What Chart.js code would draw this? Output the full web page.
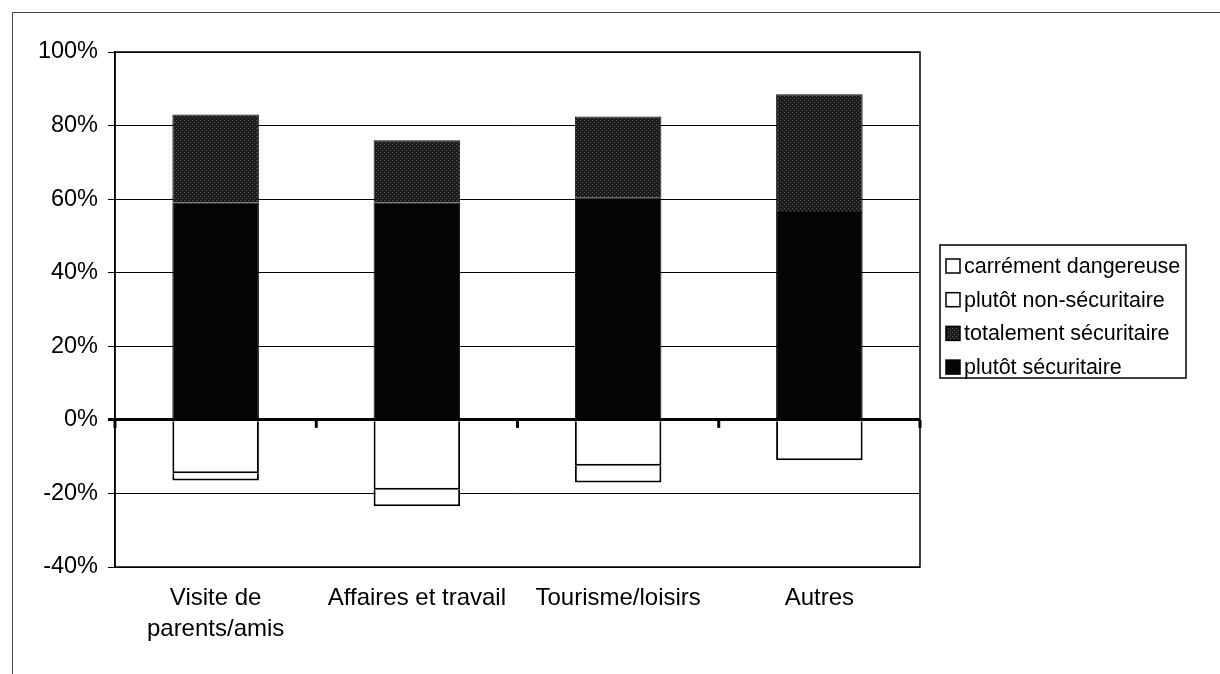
<!DOCTYPE html>
<html>
<head>
<meta charset="utf-8">
<script src="https://cdn.jsdelivr.net/npm/chart.js@4"></script>
<style>
  body { margin: 0; background: #fff; }
  #wrap { position: relative; width: 1220px; height: 674px; overflow: hidden; }
  #cadre { position: absolute; left: 12px; top: 12px; width: 1400px; height: 800px;
           border-left: 1px solid #444; border-top: 1px solid #444; }
  canvas { position: absolute; left: 0; top: 0; }
</style>
</head>
<body>
<div id="wrap">
  <div id="cadre"></div>
  <canvas id="graphique" width="1220" height="674"></canvas>
</div>
<script>
// ===== DONNÉES =====
const categories = [["Visite de", "parents/amis"], "Affaires et travail", "Tourisme/loisirs", "Autres"];
const plutotSecuritaire = [59, 59, 60.5, 56.5];
const totalementSecuritaire = [24, 17, 22, 32];
const plutotNonSecuritaire = [-14.5, -19, -12.5, -11];
const carrementDangereuse = [-2, -4.5, -4.5, 0];
const yMin = -40, yMax = 100, yPas = 20;

const police = '"Liberation Sans", Arial, sans-serif';

// ===== MOTIF GRIS (totalement sécuritaire) =====
function motifGris() {
  const c = document.createElement("canvas");
  c.width = 4; c.height = 4;
  const g = c.getContext("2d");
  g.fillStyle = "#1c1c1c";
  g.fillRect(0, 0, 4, 4);
  g.fillStyle = "#5a5a5a";
  g.fillRect(0, 0, 1, 1);
  g.fillRect(2, 2, 1, 1);
  return g.createPattern(c, "repeat");
}
const gris = motifGris();

// ===== CADRE, TIRETS DU ZÉRO ET LÉGENDE =====
const pluginCadre = {
  id: "cadre",
  afterDraw(chart) {
    const ctx = chart.ctx;
    const a = chart.chartArea;
    const x = chart.scales.x, y = chart.scales.y;
    ctx.save();
    ctx.strokeStyle = "#000";
    ctx.lineWidth = 1.5;
    ctx.strokeRect(a.left, a.top, a.right - a.left, a.bottom - a.top);

    // petits tirets sous la ligne du zéro, entre les catégories
    const y0 = y.getPixelForValue(0);
    const n = categories.length;
    ctx.lineWidth = 3;
    for (let i = 0; i <= n; i++) {
      let px;
      if (i === 0) px = a.left;
      else if (i === n) px = a.right;
      else px = (x.getPixelForValue(i - 1) + x.getPixelForValue(i)) / 2;
      ctx.beginPath();
      ctx.moveTo(px, y0);
      ctx.lineTo(px, y0 + 8);
      ctx.stroke();
    }

    // légende encadrée
    const lx = 940, ly = 245, lw = 246, lh = 133;
    ctx.lineWidth = 1.5;
    ctx.strokeRect(lx, ly, lw, lh);
    ctx.font = "21.5px " + police;
    ctx.textBaseline = "middle";
    ctx.fillStyle = "#000";
    const items = chart.data.datasets.slice().reverse();
    items.forEach((ds, i) => {
      const cy = ly + 21 + i * 33.7;
      ctx.fillStyle = ds.backgroundColor;
      ctx.fillRect(946, cy - 7, 14, 14);
      ctx.lineWidth = 1.5;
      ctx.strokeStyle = "#000";
      ctx.strokeRect(946, cy - 7, 14, 14);
      ctx.fillStyle = "#000";
      ctx.fillText(ds.label, 964, cy + 1);
    });
    ctx.restore();
  }
};

// ===== GRAPHIQUE =====
new Chart(document.getElementById("graphique"), {
  type: "bar",
  data: {
    labels: categories,
    datasets: [
      { label: "plutôt sécuritaire", data: plutotSecuritaire, backgroundColor: "#050505",
        borderColor: "#000", borderWidth: 1 },
      { label: "totalement sécuritaire", data: totalementSecuritaire, backgroundColor: gris,
        borderColor: "#111", borderWidth: 1 },
      { label: "plutôt non-sécuritaire", data: plutotNonSecuritaire, backgroundColor: "#fff",
        borderColor: "#000", borderWidth: 2, borderSkipped: "start" },
      { label: "carrément dangereuse", data: carrementDangereuse, backgroundColor: "#fff",
        borderColor: "#000", borderWidth: 2, borderSkipped: "start" }
    ]
  },
  options: {
    responsive: false,
    animation: false,
    layout: { padding: { left: 0, top: 52, right: 300, bottom: 0 } },
    datasets: { bar: { barPercentage: 0.43, categoryPercentage: 1 } },
    plugins: { legend: { display: false }, tooltip: { enabled: false } },
    scales: {
      x: {
        stacked: true,
        grid: { display: false },
        border: { display: false },
        ticks: { color: "#000", padding: 8, maxRotation: 0,
                 font: { family: police, size: 24, lineHeight: 1.3 } },
        afterFit: s => { s.height = 107; }
      },
      y: {
        stacked: true,
        min: yMin, max: yMax,
        ticks: { stepSize: yPas, color: "#000", padding: 10,
                 font: { family: police, size: 23.5 },
                 callback: v => v + "%" },
        grid: { color: "#000", tickLength: 7,
                lineWidth: c => (c.tick && c.tick.value === 0 ? 3 : 1) },
        border: { display: true, color: "#000", width: 1.5 },
        afterFit: s => { s.width = 115; }
      }
    }
  },
  plugins: [pluginCadre]
});
</script>
</body>
</html>
